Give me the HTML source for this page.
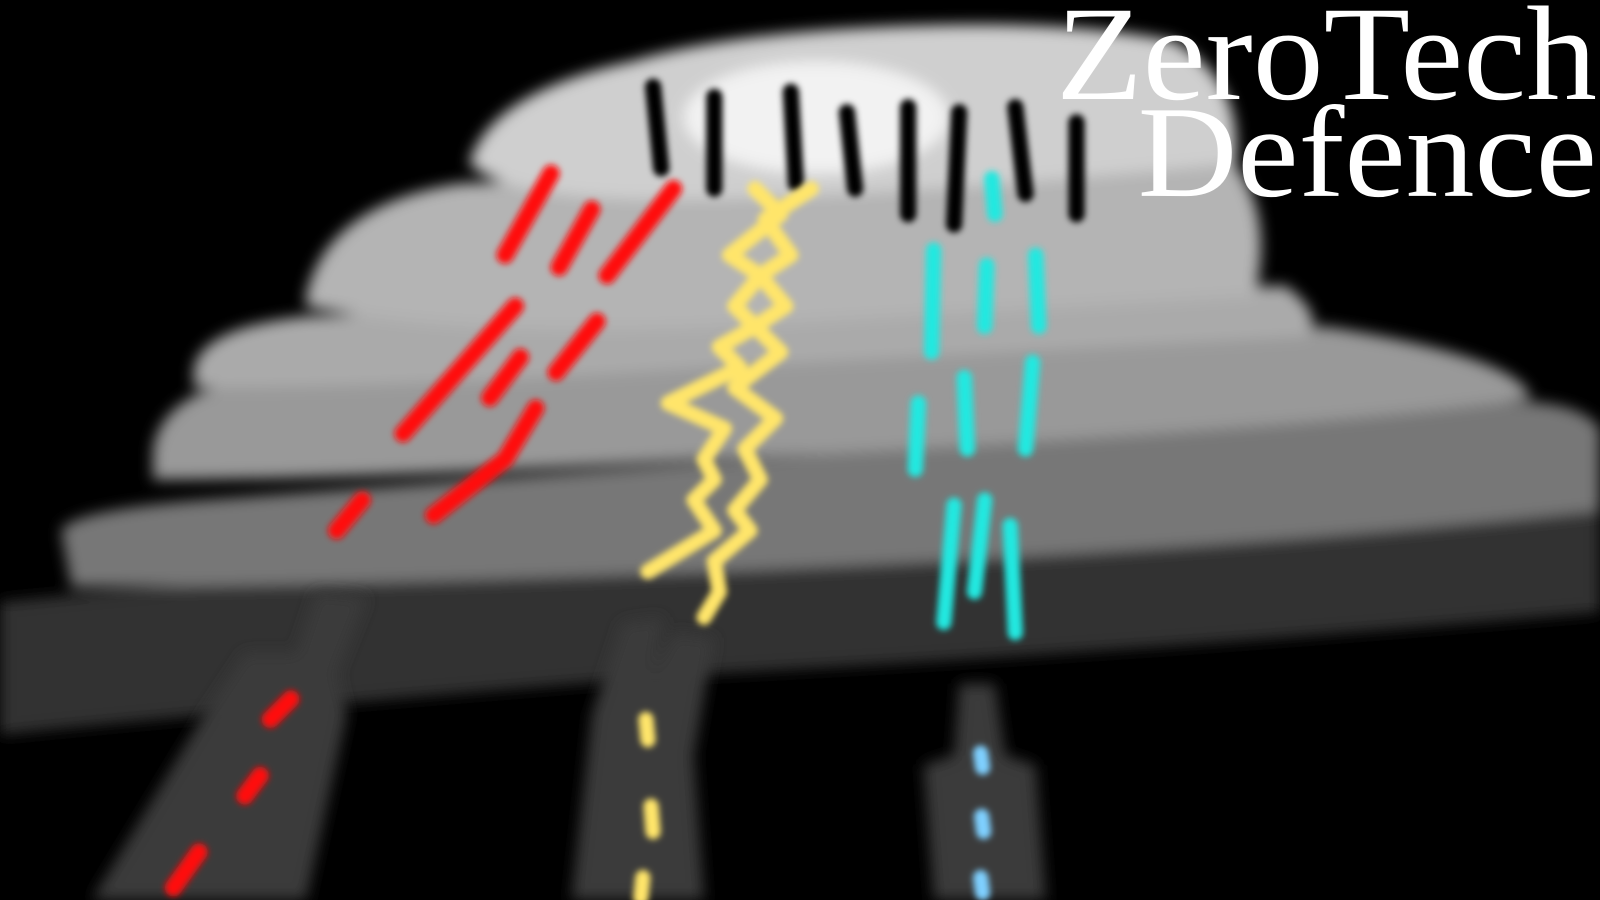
<!DOCTYPE html>
<html><head><meta charset="utf-8"><style>
html,body{margin:0;padding:0;background:#000;width:1600px;height:900px;overflow:hidden}
svg{display:block}
</style></head><body>
<svg width="1600" height="900" viewBox="0 0 1568 882" preserveAspectRatio="none" xmlns="http://www.w3.org/2000/svg">
<defs>
<filter id="b" filterUnits="userSpaceOnUse" x="-100" y="-100" width="1800" height="1100"><feGaussianBlur stdDeviation="7"/></filter>
<filter id="s" filterUnits="userSpaceOnUse" x="-100" y="-100" width="1800" height="1100"><feGaussianBlur stdDeviation="3"/></filter>
</defs>
<rect width="1568" height="882" fill="#000"/>
<g filter="url(#b)">
<path d="M0 590 Q300 560 700 545 Q1200 520 1568 500 L1568 600 Q1100 640 700 660 Q300 690 0 720 Z" fill="#333"/>
<path d="M60 520 Q70 500 200 490 L1400 400 Q1540 380 1568 420 L1568 500 Q1200 540 700 560 Q300 575 70 575 Z" fill="#777"/>
<path d="M150 440 Q160 380 260 370 L1300 320 Q1490 350 1500 390 Q1300 420 700 450 Q350 470 150 470 Z" fill="#999"/>
<path d="M190 360 Q200 320 300 310 L1260 280 Q1300 310 1280 330 L700 360 Q400 380 190 380 Z" fill="#aaa"/>
<path d="M300 290 Q320 200 450 180 L1200 150 Q1250 200 1230 290 L700 320 Q450 330 300 300 Z" fill="#b4b4b4"/>
<path d="M460 160 Q480 90 620 60 Q720 30 900 25 Q1050 20 1150 40 Q1220 80 1210 160 Q900 190 700 195 Q500 200 460 160 Z" fill="#cfcfcf"/>
<ellipse cx="800" cy="115" rx="130" ry="55" fill="#f2f2f2"/>
</g>
<g filter="url(#b)" fill="#3b3b3b">
<path d="M310 580 L360 585 L330 660 L340 700 L300 882 L90 882 L200 700 L240 640 L290 640 Z"/>
<path d="M610 610 L650 605 L640 660 L660 620 L700 625 L680 740 L690 882 L560 882 L580 700 Z"/>
<path d="M940 670 L975 670 L985 740 L1015 750 L1025 882 L915 882 L905 750 L935 740 Z"/>
</g>
<g filter="url(#s)" stroke="#000" stroke-width="16" stroke-linecap="round" fill="none">
<path d="M640 85 L648 165"/><path d="M700 95 L700 185"/><path d="M775 90 L780 180"/><path d="M830 110 L838 185"/>
<path d="M890 105 L890 210"/><path d="M940 110 L935 220"/><path d="M995 105 L1005 190"/><path d="M1055 120 L1055 210"/>
</g>
<g filter="url(#s)" stroke="#ff1010" stroke-width="17" stroke-linecap="round" fill="none">
<path d="M540 170 L495 250"/><path d="M580 205 L548 262"/><path d="M660 185 L595 270"/>
<path d="M505 300 L395 425"/><path d="M585 315 L545 365"/><path d="M510 350 L480 390"/>
<path d="M525 400 L495 450 L425 505"/><path d="M355 490 L330 520"/>
<path d="M285 685 L265 705"/><path d="M255 760 L240 780"/><path d="M195 835 L170 870"/>
</g>
<g filter="url(#s)" stroke="#ffe56a" stroke-width="15" stroke-linecap="round" stroke-linejoin="round" fill="none">
<path d="M740 185 L765 210 L715 250 L745 270 L720 300 L740 320 L705 340 L725 360 L655 395 L710 420 L690 450 L700 470 L680 490 L700 520 L635 560"/>
<path d="M795 185 L750 215 L775 250 L745 270 L770 300 L740 320 L765 345 L720 380 L760 410 L730 440 L745 470 L720 500 L735 520 L700 550 L705 580 L690 605"/>
<path d="M633 705 L635 725"/><path d="M638 790 L640 815"/><path d="M630 860 L628 880"/>
</g>
<g filter="url(#s)" stroke="#20e8e0" stroke-width="15" stroke-linecap="round" fill="none">
<path d="M972 175 L975 210"/><path d="M915 245 L913 345"/><path d="M967 260 L965 320"/><path d="M1015 250 L1018 320"/>
<path d="M900 395 L897 460"/><path d="M945 370 L948 440"/><path d="M1012 355 L1005 440"/>
<path d="M935 495 L925 610"/><path d="M965 490 L955 580"/><path d="M990 515 L995 620"/>
</g>
<g filter="url(#s)" stroke="#7fd0ff" stroke-width="15" stroke-linecap="round" fill="none">
<path d="M961 738 L963 752"/><path d="M962 800 L964 815"/><path d="M961 860 L963 875"/>
</g>
<text x="1035" y="97" textLength="530" lengthAdjust="spacingAndGlyphs" font-family="'Liberation Serif',serif" font-size="132" fill="#fff">ZeroTech</text>
<text x="1115" y="192" textLength="450" lengthAdjust="spacingAndGlyphs" font-family="'Liberation Serif',serif" font-size="128" fill="#fff">Defence</text>
</svg>
</body></html>
